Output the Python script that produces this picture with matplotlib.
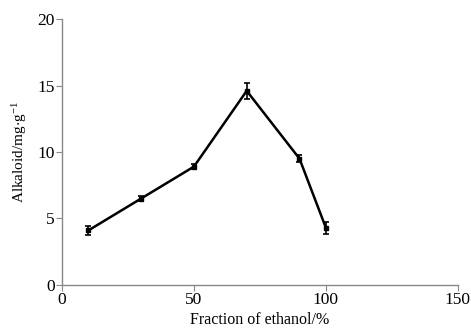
import matplotlib
matplotlib.use('Agg')
import matplotlib.pyplot as plt

# ethanol fraction (%) vs alkaloid yield (mg/g)
ethanol = [10, 30, 50, 70, 90, 100]
alkaloid = [4.1, 6.5, 8.9, 14.6, 9.5, 4.3]
err = [0.35, 0.2, 0.2, 0.6, 0.25, 0.45]

plt.rcParams['font.family'] = ['Liberation Serif', 'DejaVu Serif']
plt.rcParams['mathtext.fontset'] = 'stix'

fig = plt.figure(figsize=(4.71, 3.29), dpi=100)
ax = fig.add_axes([0.1316, 0.134, 0.8404, 0.808])

ax.errorbar(ethanol, alkaloid, yerr=err, color='black', lw=1.8,
            marker='s', ms=3.5, capsize=2.5, capthick=1.2, elinewidth=1.2)

ax.set_xlim(0, 150)
ax.set_ylim(0, 20)
ax.set_xticks([0, 50, 100, 150])
ax.set_yticks([0, 5, 10, 15, 20])

for s in ['top', 'right']:
    ax.spines[s].set_visible(False)
for s in ['left', 'bottom']:
    ax.spines[s].set_color('#888888')
    ax.spines[s].set_linewidth(1.0)
ax.tick_params(direction='out', length=4, color='#888888', labelsize=12.5, pad=1)

ax.set_xlabel('Fraction of ethanol/%', fontsize=11.5, labelpad=3)
ax.set_ylabel(r'Alkaloid/mg$\cdot$g$^{\mathregular{-1}}$', fontsize=11, labelpad=6)

fig.savefig('out.png', dpi=100)
